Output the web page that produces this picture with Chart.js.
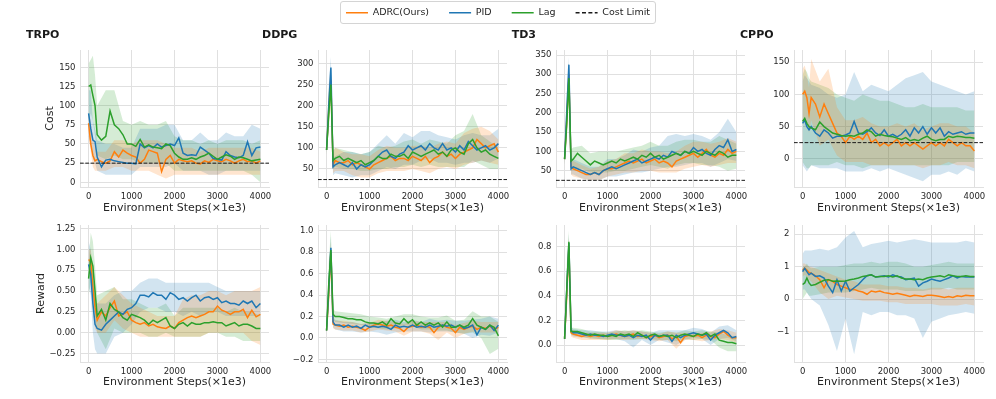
<!DOCTYPE html>
<html><head><meta charset="utf-8">
<script src="https://cdn.jsdelivr.net/npm/chart.js@4.4.1/dist/chart.umd.min.js"></script>
<style>
html,body{margin:0;padding:0;background:#fff;}
body{width:996px;height:399px;position:relative;overflow:hidden;}
canvas{position:absolute;}
#legendFrame{position:absolute;left:340px;top:1px;width:314px;height:21px;border:1px solid #d4d4d4;border-radius:3px;}
</style></head>
<body>
<div id="legendFrame"></div>
<canvas id="legend" width="996" height="100" style="left:0;top:-12px"></canvas>
<script>
// ---------------- DATA ----------------
const steps = [0,50,100,150,200,300,400,500,600,700,800,900,1000,1100,1200,1300,1400,1500,1600,1700,1800,1900,2000,2100,2200,2300,2400,2500,2600,2700,2800,2900,3000,3100,3200,3300,3400,3500,3600,3700,3800,3900,4000];
const bandSteps = [0,50,100,150,200,400,600,800,1000,1200,1400,1600,1800,2000,2200,2400,2600,2800,3000,3200,3400,3600,3800,4000];
const xTicks = [0,1000,2000,3000,4000];
const xTickLabels = ['0','1000','2000','3000','4000'];
const COST_LIMIT = 25;
const seriesNames = ['ADRC(Ours)','PID','Lag','Cost Limit'];

// TRPO cost
const trpoCostADRC = [77,50,35,28,30,27,25,28,40,33,42,38,35,33,25,30,42,40,38,14,30,35,25,30,28,27,28,25,24,28,26,30,28,27,30,28,25,28,30,27,28,25,28];
const trpoCostPID  = [90,70,55,53,33,20,29,30,28,27,26,25,25,24,50,45,48,45,50,46,48,50,48,58,38,35,36,35,46,42,38,31,30,29,40,35,33,32,35,53,35,45,46];
const trpoCostLag  = [125,127,113,100,62,55,60,93,75,70,62,50,50,47,56,46,49,46,45,44,50,48,38,33,30,30,32,30,33,35,38,34,30,33,36,34,30,33,32,30,28,29,30];
const trpoCostADRCLo = [60,40,20,15,15,15,20,20,15,15,15,10,5,10,10,10,10,10,10,10,10,10,10,10];
const trpoCostADRCHi = [90,80,60,45,40,40,55,55,50,55,55,55,50,45,45,45,40,45,45,45,45,45,45,40];
const trpoCostPIDLo  = [60,50,30,25,15,10,10,10,10,20,20,20,20,25,15,15,15,10,10,15,15,15,15,15];
const trpoCostPIDHi  = [120,120,80,70,55,50,50,45,45,70,70,70,75,75,55,55,65,55,55,65,60,60,75,70];
const trpoCostLagLo  = [75,90,80,60,35,30,35,30,30,25,25,25,25,15,15,15,15,15,15,15,15,15,10,0];
const trpoCostLagHi  = [155,160,165,140,100,120,120,80,75,80,75,75,80,60,55,55,50,55,50,55,55,55,50,55];
const trpoCostTicks = [0,25,50,75,100,125,150];
const trpoCostTickLabels = ['0','25','50','75','100','125','150'];

// DDPG cost
const ddpgCostADRC = [95,190,260,60,70,65,65,70,60,65,60,55,50,60,65,70,75,80,70,75,75,70,80,75,70,80,65,75,80,90,80,85,75,85,90,95,100,120,110,100,105,110,90];
const ddpgCostPID  = [95,200,290,55,60,65,60,55,65,50,60,55,60,70,80,90,95,80,75,85,90,105,95,100,105,95,110,100,95,110,95,100,90,105,95,115,105,95,100,105,95,100,110];
const ddpgCostLag  = [95,180,250,70,75,80,70,75,70,65,70,60,65,70,80,75,75,85,80,80,85,75,90,85,80,85,90,95,85,90,80,95,100,90,85,110,120,100,90,95,85,80,75];
const ddpgCostADRCLo = [85,150,230,40,45,45,35,30,30,40,45,45,45,50,45,40,50,55,50,60,65,70,65,60];
const ddpgCostADRCHi = [105,240,290,90,100,90,85,85,80,95,105,100,100,105,105,100,110,115,110,135,145,150,140,120];
const ddpgCostPIDLo  = [85,150,270,35,40,35,30,35,35,45,55,50,60,60,70,75,65,65,60,65,65,70,65,75];
const ddpgCostPIDHi  = [105,250,315,75,80,90,90,85,90,110,130,110,135,125,140,140,130,125,120,130,135,130,130,145];
const ddpgCostLagLo  = [85,140,220,50,55,50,50,45,45,50,50,55,55,60,55,60,55,55,55,55,70,60,50,50];
const ddpgCostLagHi  = [105,230,280,95,100,95,90,85,90,105,100,105,115,120,110,120,115,110,130,140,180,130,115,100];
const ddpgCostTicks = [50,100,150,200,250,300];
const ddpgCostTickLabels = ['50','100','150','200','250','300'];

// TD3 cost
const td3CostADRC = [80,180,300,60,55,50,45,40,40,45,40,50,55,55,60,65,70,75,70,75,80,70,75,80,70,75,70,60,75,80,85,90,95,85,95,105,90,85,95,90,105,95,100];
const td3CostPID  = [80,200,325,55,60,55,50,45,40,45,40,50,55,60,55,60,65,70,75,80,70,75,80,85,80,90,85,100,95,90,100,95,110,100,105,95,90,105,115,110,130,100,105];
const td3CostLag  = [80,170,290,75,80,95,85,75,65,75,70,65,70,75,70,80,75,80,85,80,90,85,95,85,90,80,85,90,95,90,100,95,100,95,90,100,95,90,100,95,85,90,90];
const td3CostADRCLo = [65,140,270,40,35,30,25,25,35,40,45,45,50,50,45,45,45,55,60,65,60,65,70,70];
const td3CostADRCHi = [95,230,330,80,75,65,55,60,75,80,95,95,105,100,100,95,100,115,125,125,120,125,135,125];
const td3CostPIDLo  = [65,150,300,40,40,30,25,25,35,35,40,45,45,50,55,60,60,65,70,70,60,70,80,75];
const td3CostPIDHi  = [95,250,345,75,80,70,60,60,80,80,90,105,100,110,115,140,145,140,145,140,130,150,185,150];
const td3CostLagLo  = [65,140,260,50,55,55,45,45,45,50,50,55,60,65,60,55,65,70,70,65,65,60,50,55];
const td3CostLagHi  = [95,220,320,105,110,115,95,100,100,100,105,110,115,125,115,115,125,130,130,125,125,140,130,120];
const td3CostTicks = [50,100,150,200,250,300,350];
const td3CostTickLabels = ['50','100','150','200','250','300','350'];

// CPPO cost
const cppoCostADRC = [100,105,95,70,95,85,65,85,70,55,40,35,25,35,30,35,30,40,25,30,20,25,20,25,30,20,25,20,25,20,15,20,25,20,25,20,30,25,20,25,20,20,12];
const cppoCostPID  = [55,60,50,45,50,40,35,45,40,32,35,35,37,40,58,40,38,42,48,40,36,45,35,38,34,38,45,35,48,40,50,38,48,40,48,35,42,38,40,42,38,40,40];
const cppoCostLag  = [58,63,55,50,48,45,57,50,45,40,38,36,35,36,35,38,40,45,42,35,38,36,35,34,32,30,33,28,30,28,32,35,30,28,30,30,35,33,35,34,33,33,32];
const cppoCostADRCLo = [60,65,60,40,60,20,30,5,-5,-5,-5,-10,-10,-10,-10,-10,-10,-15,-10,-10,-5,-10,-10,-15];
const cppoCostADRCHi = [140,145,130,110,155,120,140,80,60,60,65,55,50,50,55,50,55,45,50,55,55,50,50,40];
const cppoCostPIDLo  = [-10,-15,-20,-15,-10,-15,-15,-15,-20,-20,-20,-15,-20,-15,-20,-25,-30,-35,-25,-25,-20,-25,-15,-20];
const cppoCostPIDHi  = [120,130,125,120,115,110,100,95,100,135,105,115,110,105,115,125,130,135,120,115,110,105,100,105];
const cppoCostLagLo  = [-5,-10,-15,-15,-10,-10,-10,-5,-10,-10,-15,-10,-10,-10,-10,-10,-10,-10,-10,-10,-10,-5,-5,-5];
const cppoCostLagHi  = [130,140,135,125,120,115,110,100,95,90,100,95,90,90,85,80,80,85,80,80,80,80,75,75];
const cppoCostTicks = [0,50,100,150];
const cppoCostTickLabels = ['0','50','100','150'];

// TRPO reward
const trpoRewADRC = [0.88,0.85,0.55,0.30,0.15,0.25,0.20,0.30,0.38,0.20,0.22,0.25,0.15,0.12,0.10,0.12,0.08,0.10,0.07,0.06,0.05,0.08,0.05,0.12,0.15,0.18,0.20,0.18,0.20,0.22,0.25,0.25,0.32,0.27,0.25,0.22,0.25,0.25,0.28,0.18,0.27,0.19,0.22];
const trpoRewPID  = [0.82,0.70,0.35,0.10,0.05,0.03,0.10,0.15,0.20,0.25,0.22,0.28,0.30,0.35,0.45,0.45,0.43,0.48,0.45,0.45,0.40,0.48,0.45,0.40,0.42,0.38,0.42,0.45,0.38,0.42,0.43,0.40,0.42,0.36,0.38,0.35,0.35,0.33,0.38,0.35,0.38,0.30,0.35];
const trpoRewLag  = [0.65,0.90,0.80,0.50,0.20,0.28,0.15,0.35,0.28,0.25,0.18,0.15,0.22,0.20,0.18,0.15,0.10,0.15,0.12,0.15,0.18,0.08,0.05,0.10,0.12,0.08,0.12,0.10,0.10,0.12,0.12,0.13,0.12,0.12,0.08,0.10,0.12,0.08,0.10,0.10,0.08,0.05,0.05];
const trpoRewADRCLo = [0.75,0.7,0.3,0.05,0.0,0.0,0.15,0.05,0.0,-0.05,-0.05,-0.05,-0.05,-0.05,-0.05,-0.05,-0.05,0.0,0.0,0.0,0.0,0.0,-0.1,-0.15];
const trpoRewADRCHi = [1.0,1.0,0.8,0.5,0.35,0.45,0.55,0.45,0.35,0.3,0.25,0.2,0.2,0.2,0.4,0.45,0.45,0.5,0.5,0.45,0.5,0.5,0.5,0.55];
const trpoRewPIDLo  = [0.55,0.45,0.0,-0.2,-0.25,-0.25,-0.05,0.0,0.1,0.25,0.3,0.3,0.25,0.25,0.2,0.25,0.2,0.25,0.25,0.2,0.2,0.2,0.2,0.2];
const trpoRewPIDHi  = [1.1,1.0,0.7,0.45,0.35,0.35,0.45,0.5,0.5,0.6,0.65,0.65,0.6,0.6,0.6,0.6,0.6,0.6,0.55,0.5,0.5,0.5,0.5,0.5];
const trpoRewLagLo  = [0.45,0.6,0.55,0.2,0.0,-0.2,0.05,0.0,0.0,0.0,-0.05,-0.05,0.0,-0.05,-0.05,-0.05,-0.05,0.0,0.0,-0.05,-0.05,-0.1,-0.1,-0.1];
const trpoRewLagHi  = [0.85,1.2,1.1,0.8,0.45,0.5,0.55,0.4,0.4,0.35,0.3,0.3,0.35,0.2,0.3,0.3,0.3,0.3,0.3,0.25,0.3,0.25,0.25,0.2];
const trpoRewTicks = [-0.25,0,0.25,0.5,0.75,1.0,1.25];
const trpoRewTickLabels = ['\u22120.25','0.00','0.25','0.50','0.75','1.00','1.25'];

// DDPG reward
const ddpgRewADRC = [0.07,0.40,0.80,0.13,0.12,0.11,0.12,0.10,0.11,0.10,0.09,0.07,0.10,0.12,0.13,0.12,0.11,0.12,0.10,0.09,0.06,0.10,0.11,0.12,0.10,0.11,0.10,0.05,0.10,0.12,0.10,0.09,0.05,0.10,0.08,0.10,0.11,0.08,0.10,0.09,0.11,0.08,0.10];
const ddpgRewPID  = [0.07,0.45,0.84,0.15,0.12,0.12,0.10,0.12,0.10,0.11,0.09,0.12,0.10,0.11,0.10,0.11,0.10,0.08,0.12,0.10,0.11,0.10,0.12,0.10,0.11,0.10,0.12,0.10,0.11,0.12,0.11,0.12,0.10,0.12,0.09,0.10,0.12,0.03,0.10,0.08,0.12,0.07,0.12];
const ddpgRewLag  = [0.07,0.50,0.82,0.22,0.20,0.20,0.19,0.18,0.18,0.17,0.17,0.15,0.14,0.14,0.13,0.15,0.12,0.18,0.14,0.13,0.18,0.14,0.17,0.12,0.15,0.12,0.14,0.12,0.14,0.10,0.15,0.10,0.10,0.12,0.10,0.12,0.18,0.12,0.10,0.08,0.12,0.10,0.02];
const ddpgRewADRCLo = [0.05,0.25,0.7,0.09,0.08,0.07,0.07,0.05,0.06,0.08,0.07,0.06,0.02,0.06,0.06,0.04,-0.02,0.05,0.0,0.04,0.06,0.05,0.05,0.05];
const ddpgRewADRCHi = [0.09,0.55,0.9,0.18,0.16,0.16,0.15,0.13,0.14,0.17,0.16,0.15,0.13,0.16,0.15,0.15,0.15,0.15,0.12,0.14,0.16,0.15,0.15,0.15];
const ddpgRewPIDLo  = [0.05,0.3,0.75,0.1,0.08,0.06,0.06,0.05,0.06,0.05,0.03,0.05,0.06,0.06,0.06,0.05,0.06,0.06,0.05,0.04,0.0,0.03,0.02,0.05];
const ddpgRewPIDHi  = [0.09,0.6,0.95,0.2,0.17,0.15,0.15,0.13,0.14,0.15,0.16,0.17,0.15,0.17,0.15,0.18,0.16,0.17,0.16,0.16,0.17,0.18,0.2,0.18];
const ddpgRewLagLo  = [0.05,0.3,0.7,0.17,0.15,0.14,0.13,0.12,0.1,0.09,0.08,0.09,0.12,0.11,0.08,0.08,0.07,0.07,0.05,0.04,0.05,0.0,-0.15,-0.1];
const ddpgRewLagHi  = [0.09,0.7,1.0,0.27,0.25,0.24,0.23,0.22,0.2,0.19,0.18,0.2,0.22,0.22,0.2,0.19,0.19,0.21,0.16,0.17,0.25,0.2,0.2,0.15];
const ddpgRewTicks = [-0.2,0,0.2,0.4,0.6,0.8,1.0];
const ddpgRewTickLabels = ['\u22120.2','0.0','0.2','0.4','0.6','0.8','1.0'];

// TD3 reward
const td3RewADRC = [0.05,0.40,0.80,0.10,0.09,0.08,0.07,0.08,0.07,0.08,0.07,0.08,0.07,0.08,0.09,0.08,0.07,0.08,0.09,0.07,0.08,0.06,0.07,0.08,0.06,0.07,0.08,0.05,0.07,0.02,0.07,0.08,0.07,0.08,0.06,0.08,0.07,0.06,0.09,0.11,0.08,0.06,0.06];
const td3RewPID  = [0.05,0.45,0.83,0.12,0.10,0.10,0.09,0.08,0.09,0.08,0.08,0.07,0.08,0.09,0.08,0.08,0.07,0.08,0.06,0.08,0.07,0.08,0.04,0.08,0.07,0.08,0.08,0.03,0.08,0.06,0.08,0.09,0.10,0.09,0.08,0.09,0.04,0.08,0.10,0.12,0.10,0.06,0.07];
const td3RewLag  = [0.05,0.45,0.84,0.11,0.11,0.11,0.10,0.09,0.08,0.09,0.08,0.08,0.07,0.08,0.07,0.09,0.08,0.09,0.07,0.10,0.08,0.06,0.08,0.09,0.07,0.08,0.07,0.08,0.06,0.08,0.09,0.08,0.07,0.09,0.08,0.10,0.07,0.09,0.04,0.03,0.02,0.02,0.01];
const td3RewADRCLo = [0.04,0.25,0.7,0.07,0.06,0.04,0.04,0.04,0.04,0.05,0.04,0.05,0.05,0.04,0.03,0.04,-0.03,0.04,0.04,0.03,0.04,0.05,0.04,0.02];
const td3RewADRCHi = [0.07,0.55,0.88,0.13,0.12,0.1,0.1,0.1,0.1,0.12,0.11,0.12,0.11,0.1,0.09,0.11,0.1,0.1,0.1,0.1,0.11,0.13,0.12,0.1];
const td3RewPIDLo  = [0.04,0.3,0.75,0.09,0.07,0.06,0.06,0.05,0.05,0.05,0.03,-0.02,0.04,0.0,0.04,0.02,0.0,0.04,0.06,0.05,0.0,0.05,0.06,0.03];
const td3RewPIDHi  = [0.07,0.6,0.9,0.15,0.13,0.12,0.12,0.11,0.11,0.12,0.11,0.12,0.11,0.1,0.12,0.12,0.12,0.12,0.14,0.13,0.1,0.15,0.16,0.12];
const td3RewLagLo  = [0.04,0.3,0.75,0.08,0.08,0.07,0.05,0.05,0.04,0.04,0.05,0.04,0.05,0.05,0.04,0.04,0.03,0.05,0.04,0.05,0.04,-0.02,-0.05,-0.05];
const td3RewLagHi  = [0.07,0.65,0.93,0.14,0.14,0.13,0.11,0.11,0.1,0.11,0.12,0.11,0.12,0.11,0.1,0.11,0.1,0.12,0.11,0.12,0.11,0.1,0.08,0.06];
const td3RewTicks = [0,0.2,0.4,0.6,0.8];
const td3RewTickLabels = ['0.0','0.2','0.4','0.6','0.8'];

// CPPO reward
const cppoRewADRC = [0.90,0.95,0.90,0.82,0.80,0.72,0.60,0.35,0.60,0.55,0.45,0.40,0.35,0.30,0.30,0.25,0.22,0.15,0.25,0.22,0.25,0.20,0.18,0.15,0.18,0.15,0.12,0.08,0.12,0.10,0.08,0.12,0.12,0.10,0.08,0.05,0.08,0.05,0.10,0.08,0.12,0.10,0.10];
const cppoRewPID  = [0.85,0.95,0.85,0.75,0.80,0.70,0.72,0.65,0.40,0.20,0.60,0.25,0.55,0.25,0.35,0.45,0.60,0.72,0.75,0.68,0.70,0.72,0.68,0.75,0.70,0.68,0.60,0.62,0.65,0.40,0.50,0.55,0.62,0.58,0.55,0.60,0.65,0.72,0.65,0.70,0.68,0.68,0.68];
const cppoRewLag  = [0.45,0.50,0.65,0.50,0.42,0.45,0.52,0.58,0.60,0.55,0.56,0.55,0.56,0.60,0.62,0.65,0.70,0.72,0.75,0.68,0.70,0.70,0.72,0.68,0.72,0.65,0.62,0.62,0.60,0.62,0.60,0.65,0.68,0.70,0.72,0.68,0.75,0.72,0.70,0.70,0.72,0.70,0.70];
const cppoRewADRCLo = [0.7,0.75,0.7,0.6,0.55,0.2,0.0,0.1,0.05,0.0,-0.05,-0.05,-0.05,-0.1,-0.1,-0.15,-0.15,-0.15,-0.15,-0.2,-0.2,-0.2,-0.15,-0.2];
const cppoRewADRCHi = [1.1,1.1,1.05,1.0,1.0,0.9,0.8,0.7,0.6,0.55,0.45,0.45,0.45,0.4,0.4,0.35,0.35,0.3,0.35,0.35,0.3,0.35,0.35,0.35];
const cppoRewPIDLo  = [0.3,0.3,0.2,0.1,0.0,-0.2,-0.8,-1.6,-0.6,-1.7,-0.4,-0.5,-0.4,-0.4,-0.5,-0.5,-0.6,-1.2,-0.7,-0.6,-0.5,-0.45,-0.4,-0.45];
const cppoRewPIDHi  = [1.4,1.5,1.5,1.5,1.5,1.55,1.5,1.6,1.9,2.1,1.6,1.7,1.75,1.8,1.75,1.8,1.85,1.8,1.75,1.75,1.75,1.75,1.8,1.75];
const cppoRewLagLo  = [0.0,0.1,0.2,0.1,0.1,0.15,0.2,0.2,0.2,0.25,0.3,0.35,0.3,0.3,0.3,0.25,0.25,0.25,0.3,0.3,0.35,0.3,0.3,0.3];
const cppoRewLagHi  = [1.0,1.0,1.1,1.0,0.95,1.0,1.0,1.0,1.05,1.1,1.1,1.15,1.1,1.15,1.15,1.1,1.0,1.0,1.05,1.1,1.15,1.1,1.1,1.1];
const cppoRewTicks = [-1,0,1,2];
const cppoRewTickLabels = ['\u22121','0','1','2'];

// ---------------- STYLE / LAYOUT ----------------
const FONT = '"DejaVu Sans", "Liberation Sans", sans-serif';
const COLORS = {adrc:'#ff7f0e', pid:'#1f77b4', lag:'#2ca02c'};
const FILLS = {adrc:'rgba(255,127,14,0.2)', pid:'rgba(31,119,180,0.2)', lag:'rgba(44,160,44,0.2)'};
const GRID = '#e0e0e0', TXT = '#262626';
const X_MIN = -200, X_MAX = 4200;
const COL_LEFT = [80,318,556,794], PLOT_W = 189, PLOT_H = 137, ROW_TOP = [50,225];
const PAD_TOP = 28, PAD_RIGHT = 8, Y_AXIS_W = 80, X_AXIS_H = 30;
const TITLE_X = [26,24,35.7,26], TITLE_Y = 13.5;
const X_TITLE_PAD = [2.4,2.9];
const Y_TITLE_PAD = [43.4,34.4];

Chart.defaults.font.family = FONT;

const panels = [
  {row:0,col:0,title:'TRPO',yTitle:'Cost',limit:COST_LIMIT,yMin:-6.1,yMax:172.6,yTicks:trpoCostTicks,yLabels:trpoCostTickLabels,
   lines:{adrc:trpoCostADRC,pid:trpoCostPID,lag:trpoCostLag},
   bands:{adrc:[trpoCostADRCLo,trpoCostADRCHi],pid:[trpoCostPIDLo,trpoCostPIDHi],lag:[trpoCostLagLo,trpoCostLagHi]}},
  {row:0,col:1,title:'DDPG',limit:COST_LIMIT,yMin:7.4,yMax:331.5,yTicks:ddpgCostTicks,yLabels:ddpgCostTickLabels,
   lines:{adrc:ddpgCostADRC,pid:ddpgCostPID,lag:ddpgCostLag},
   bands:{adrc:[ddpgCostADRCLo,ddpgCostADRCHi],pid:[ddpgCostPIDLo,ddpgCostPIDHi],lag:[ddpgCostLagLo,ddpgCostLagHi]}},
  {row:0,col:2,title:'TD3',limit:COST_LIMIT,yMin:7.7,yMax:363,yTicks:td3CostTicks,yLabels:td3CostTickLabels,
   lines:{adrc:td3CostADRC,pid:td3CostPID,lag:td3CostLag},
   bands:{adrc:[td3CostADRCLo,td3CostADRCHi],pid:[td3CostPIDLo,td3CostPIDHi],lag:[td3CostLagLo,td3CostLagHi]}},
  {row:0,col:3,title:'CPPO',limit:COST_LIMIT,yMin:-44,yMax:169.1,yTicks:cppoCostTicks,yLabels:cppoCostTickLabels,
   lines:{adrc:cppoCostADRC,pid:cppoCostPID,lag:cppoCostLag},
   bands:{adrc:[cppoCostADRCLo,cppoCostADRCHi],pid:[cppoCostPIDLo,cppoCostPIDHi],lag:[cppoCostLagLo,cppoCostLagHi]}},
  {row:1,col:0,yTitle:'Reward',yMin:-0.353,yMax:1.294,yTicks:trpoRewTicks,yLabels:trpoRewTickLabels,
   lines:{adrc:trpoRewADRC,pid:trpoRewPID,lag:trpoRewLag},
   bands:{adrc:[trpoRewADRCLo,trpoRewADRCHi],pid:[trpoRewPIDLo,trpoRewPIDHi],lag:[trpoRewLagLo,trpoRewLagHi]}},
  {row:1,col:1,yMin:-0.224,yMax:1.053,yTicks:ddpgRewTicks,yLabels:ddpgRewTickLabels,
   lines:{adrc:ddpgRewADRC,pid:ddpgRewPID,lag:ddpgRewLag},
   bands:{adrc:[ddpgRewADRCLo,ddpgRewADRCHi],pid:[ddpgRewPIDLo,ddpgRewPIDHi],lag:[ddpgRewLagLo,ddpgRewLagHi]}},
  {row:1,col:2,yMin:-0.138,yMax:0.976,yTicks:td3RewTicks,yLabels:td3RewTickLabels,
   lines:{adrc:td3RewADRC,pid:td3RewPID,lag:td3RewLag},
   bands:{adrc:[td3RewADRCLo,td3RewADRCHi],pid:[td3RewPIDLo,td3RewPIDHi],lag:[td3RewLagLo,td3RewLagHi]}},
  {row:1,col:3,yMin:-1.94,yMax:2.286,yTicks:cppoRewTicks,yLabels:cppoRewTickLabels,
   lines:{adrc:cppoRewADRC,pid:cppoRewPID,lag:cppoRewLag},
   bands:{adrc:[cppoRewADRCLo,cppoRewADRCHi],pid:[cppoRewPIDLo,cppoRewPIDHi],lag:[cppoRewLagLo,cppoRewLagHi]}}
];

function xy(xs, ys){ return ys.map((v,i)=>({x:xs[i], y:v})); }

function makePanel(p){
  const cv = document.createElement('canvas');
  cv.width = Y_AXIS_W + PLOT_W + PAD_RIGHT;
  cv.height = PAD_TOP + PLOT_H + X_AXIS_H;
  cv.style.left = (COL_LEFT[p.col] - Y_AXIS_W) + 'px';
  cv.style.top = (ROW_TOP[p.row] - PAD_TOP) + 'px';
  document.body.appendChild(cv);

  const ds = [];
  if (p.limit !== undefined) {
    ds.push({data:[{x:X_MIN,y:p.limit},{x:X_MAX,y:p.limit}], borderColor:'#1a1a1a', borderWidth:1,
             borderDash:[3.7,1.6], pointRadius:0, fill:false});
  }
  ['lag','pid','adrc'].forEach(k => ds.push({data:xy(steps,p.lines[k]), borderColor:COLORS[k],
      borderWidth:1.5, pointRadius:0, fill:false, tension:0}));
  ['adrc','pid','lag'].forEach(k => {
    ds.push({data:xy(bandSteps,p.bands[k][0]), borderWidth:0, borderColor:'rgba(0,0,0,0)', pointRadius:0, fill:false});
    ds.push({data:xy(bandSteps,p.bands[k][1]), borderWidth:0, borderColor:'rgba(0,0,0,0)', pointRadius:0,
             fill:'-1', backgroundColor:FILLS[k]});
  });

  const titlePlugin = {
    id:'panelTitle',
    afterDraw(chart){
      if (!p.title) return;
      const ctx = chart.ctx;
      ctx.save();
      ctx.font = 'bold 11px ' + FONT;
      ctx.fillStyle = '#1a1a1a';
      ctx.textAlign = 'left';
      ctx.textBaseline = 'middle';
      ctx.fillText(p.title, TITLE_X[p.col], TITLE_Y);
      ctx.restore();
    }
  };

  new Chart(cv, {
    type:'line',
    data:{datasets:ds},
    plugins:[titlePlugin],
    options:{
      responsive:false, animation:false, events:[],
      layout:{padding:{left:0, top:PAD_TOP, right:PAD_RIGHT, bottom:0}},
      plugins:{legend:{display:false}, tooltip:{enabled:false},
               filler:{propagate:false, drawTime:'beforeDatasetsDraw'}},
      scales:{
        x:{type:'linear', min:X_MIN, max:X_MAX,
           afterFit(s){ s.height = X_AXIS_H; },
           afterBuildTicks(s){ s.ticks = xTicks.map(v=>({value:v})); },
           grid:{color:GRID, lineWidth:1, drawTicks:false},
           border:{display:true, color:GRID, width:1},
           ticks:{autoSkip:false, maxRotation:0, padding:5, color:TXT, font:{size:8.5},
                  callback:(v,i)=>xTickLabels[i]},
           title:{display:true, text:'Environment Steps(\u00d71e3)', color:TXT, font:{size:11},
                  padding:{top:0, bottom:X_TITLE_PAD[p.row]}}},
        y:{type:'linear', min:p.yMin, max:p.yMax,
           afterFit(s){ s.width = Y_AXIS_W; },
           afterBuildTicks(s){ s.ticks = p.yTicks.map(v=>({value:v})); },
           grid:{color:GRID, lineWidth:1, drawTicks:false},
           border:{display:true, color:GRID, width:1},
           ticks:{autoSkip:false, padding:4.5, color:TXT, font:{size:8.5},
                  callback:(v,i)=>p.yLabels[i]},
           title:{display:!!p.yTitle, text:p.yTitle || '', color:TXT, font:{size:11},
                  padding:{top:Y_TITLE_PAD[p.row], bottom:0}}}
      }
    }
  });
}

panels.forEach(makePanel);

// ---------------- LEGEND ----------------
const legendStyles = [
  {color:COLORS.adrc, dash:[]},
  {color:COLORS.pid, dash:[]},
  {color:COLORS.lag, dash:[]},
  {color:'#1a1a1a', dash:[4,2.4]}
];
new Chart(document.getElementById('legend'), {
  type:'line',
  data:{datasets:[]},
  options:{
    responsive:false, animation:false, events:[],
    layout:{padding:0},
    scales:{x:{display:false}, y:{display:false}},
    plugins:{
      tooltip:{enabled:false},
      legend:{display:true, position:'top', align:'center',
        labels:{usePointStyle:true, pointStyleWidth:22, padding:20, color:TXT, font:{size:9.5},
          generateLabels:()=>seriesNames.map((name,i)=>({
            text:name, fillStyle:legendStyles[i].color, strokeStyle:legendStyles[i].color,
            lineWidth:1.5, lineDash:legendStyles[i].dash, pointStyle:'line', hidden:false, datasetIndex:i,
            fontColor:TXT
          }))
        }
      }
    }
  }
});
</script>
</body></html>
